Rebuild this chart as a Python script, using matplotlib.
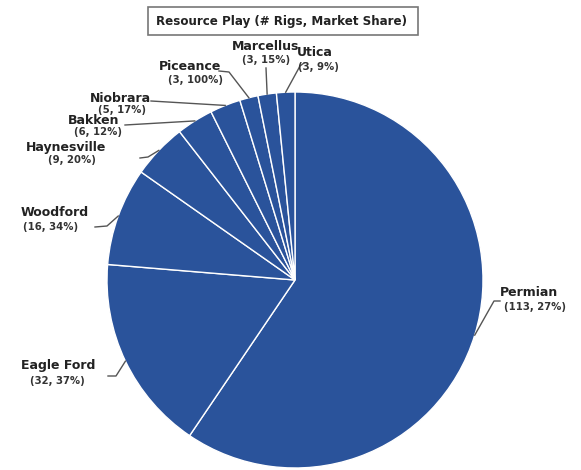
import numpy as np
import matplotlib
matplotlib.use('Agg')
import matplotlib.pyplot as plt
from matplotlib.patches import Rectangle

plt.rcParams['font.family'] = ['DejaVu Sans']

# data
plays = ['Permian', 'Eagle Ford', 'Woodford', 'Haynesville', 'Bakken',
         'Niobrara', 'Piceance', 'Marcellus', 'Utica']
rigs = [113, 32, 16, 9, 6, 5, 3, 3, 3]
share = [27, 37, 34, 20, 12, 17, 100, 15, 9]
title = 'Resource Play (# Rigs, Market Share)'

# label layout in pixels from top-left: name x, name y, sub x, sub y, leader start
label_pos = {
    'Permian':     (529, 292, 535, 307, [(500, 301), (494, 301)]),
    'Eagle Ford':  (58, 366, 57, 381, [(108, 376), (116, 376)]),
    'Woodford':    (55, 213, 51, 227, [(95, 227), (107, 226)]),
    'Haynesville': (66, 147, 72, 160, [(140, 158), (148, 157)]),
    'Bakken':      (94, 120, 98, 132, [(125, 125)]),
    'Niobrara':    (120, 98, 122, 110, [(151, 101)]),
    'Piceance':    (190, 67, 196, 80, [(219, 71), (229, 72)]),
    'Marcellus':   (266, 46, 266, 60, [(266, 68)]),
    'Utica':       (315, 52, 318, 67, [(304, 63), (300, 66)]),
}

W, H = 581, 470
cx, cy, r = 295, 280, 188
blue = '#2a539b'
txt = '#222222'


def py(y):
    return H - y


fig = plt.figure(figsize=(5.81, 4.70), dpi=100)
ax = fig.add_axes([0, 0, 1, 1])

wedges, _ = ax.pie(rigs, startangle=90, counterclock=False, center=(cx, py(cy)),
                   radius=r, colors=[blue] * len(rigs),
                   wedgeprops=dict(edgecolor='white', linewidth=1.0))
ax.set_xlim(0, W)
ax.set_ylim(0, H)
ax.set_aspect('equal')
ax.axis('off')

total = float(sum(rigs))
cum = np.cumsum([0] + rigs)
for i, name in enumerate(plays):
    mid = (cum[i] + cum[i + 1]) / 2.0
    ang = np.deg2rad(90 - mid / total * 360)
    ex = cx + r * np.cos(ang)
    ey = cy - r * np.sin(ang)
    nx, ny, sx, sy, lead = label_pos[name]
    pts = lead + [(ex, ey)]
    ax.plot([p[0] for p in pts], [py(p[1]) for p in pts], color='#555555', lw=1.0)
    ax.text(nx, py(ny), name, ha='center', va='center', fontsize=9,
            fontweight='bold', color=txt)
    ax.text(sx, py(sy), '(%d, %d%%)' % (rigs[i], share[i]), ha='center', va='center',
            fontsize=7.3, fontweight='bold', color='#333333')

# title box
ax.add_patch(Rectangle((148, py(35)), 270, 28, facecolor='white', edgecolor='#777777', lw=1.2))
ax.text(282, py(21), title, ha='center', va='center', fontsize=8.6,
        fontweight='bold', color=txt)

fig.savefig('out.png', dpi=100)
